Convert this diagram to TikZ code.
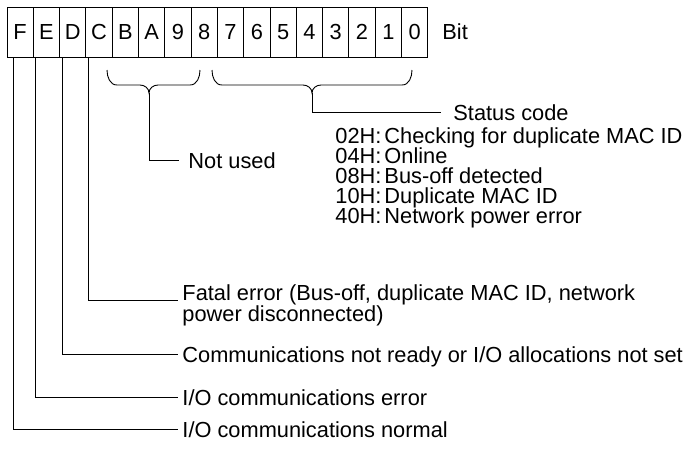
\documentclass[tikz,border=0pt]{standalone}
\usepackage{fontspec}
\setmainfont{Liberation Sans}
\usetikzlibrary{positioning}

\begin{document}
\begin{tikzpicture}[x=1pt, y=-1pt, line width=0.9pt, font=\fontsize{21.8}{24}\selectfont]
    % ================= styles =================
    \tikzset{
        % one bit of the status word
        bitcell/.style={draw, minimum width=26.3pt, minimum height=50pt, inner sep=0pt},
        % text labels, placed by their baseline
        lbl/.style={inner xsep=4pt, inner ysep=0pt, text height=15.6pt, text depth=0pt, anchor=base west},
        % leader lines and braces
        conn/.style={line width=0.9pt, line join=miter},
        brc/.style={line width=0.9pt}
    }
    \useasboundingbox (0,0) rectangle (694,451);

    % ================= bit row =================
    \foreach \b [count=\i from 0] in {F,E,D,C,B,A,9,8,7,6,5,4,3,2,1,0}
        \node[bitcell] (b\b) at ({20.15+26.3*\i}, 32) {\b};
    \node[lbl, anchor=west] (bit) at (438,32) {Bit};

    % ================= braces =================
    % bits B..8
    \coordinate (tipA) at (149,93);
    \draw[brc] (107,70) to[out=-90,in=180] (117,85) -- (140,85) to[out=0,in=90] (tipA)
               to[out=90,in=180] (158,85) -- (190,85) to[out=0,in=-90] (200,70);
    % bits 7..0
    \coordinate (tipB) at (312,93);
    \draw[brc] (212,70) to[out=-90,in=180] (222,85) -- (303,85) to[out=0,in=90] (tipB)
               to[out=90,in=180] (321,85) -- (402,85) to[out=0,in=-90] (412,70);

    % ================= labels =================
    \node[lbl, inner xsep=9pt] (notused) at (179,168) {Not used};
    \node[lbl, inner xsep=12pt] (status) at (441,120) {Status code};
    \foreach \code/\desc [count=\i] in {02H/Checking for duplicate MAC ID, 04H/Online,
            08H/Bus-off detected, 10H/Duplicate MAC ID, 40H/Network power error}
        \node[lbl, inner xsep=0pt] (st\i) at (335, {123+20*\i}) {\code:\hspace{3pt}\desc};

    \node[lbl] (fatal) at (178,300) {Fatal error (Bus-off, duplicate MAC ID, network};
    \node[lbl] (fatal2) at ([yshift=-21pt]fatal.base west) {power disconnected)};
    \node[lbl] (notready) at (178,362) {Communications not ready or I/O allocations not set};
    \node[lbl] (ioerr) at (178,405) {I/O communications error};
    \node[lbl] (ionorm) at (178,437) {I/O communications normal};

    % ================= leader lines =================
    \draw[conn] (tipA) |- (notused.west);
    \draw[conn] (tipB) |- (status.west);
    \draw[conn] ([xshift=3pt]bC.south west) |- (fatal.base west);
    \draw[conn] ([xshift=3pt]bD.south west) |- (notready.west);
    \draw[conn] ([xshift=3pt]bE.south west) |- (ioerr.west);
    \draw[conn] ([xshift=7pt]bF.south west) |- (ionorm.west);
\end{tikzpicture}
\end{document}
